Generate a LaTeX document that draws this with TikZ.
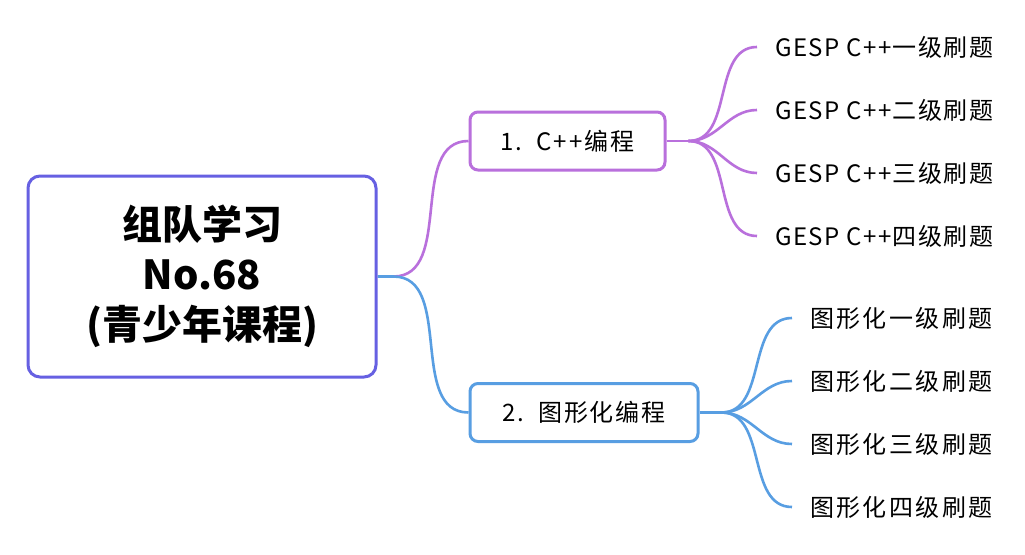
\documentclass[tikz,border=0pt]{standalone}
\usepackage{fontspec}
\setmainfont{Noto Sans CJK SC}
\usetikzlibrary{positioning,calc}

\definecolor{rootblue}{RGB}{102,96,226}
\definecolor{mindpurple}{RGB}{185,112,220}
\definecolor{mindblue}{RGB}{88,158,226}

\tikzset{
  rootbox/.style={draw=rootblue, line width=3pt, rounded corners=12pt,
    minimum width=348pt, minimum height=201pt, align=center,
    font=\fontsize{40}{50}\selectfont\bfseries},
  topicbox/.style={draw=#1, line width=3pt, rounded corners=8pt, fill=white,
    minimum height=58pt, font=\fontsize{24}{28}\selectfont\addfontfeature{LetterSpace=8}},
  leafnode/.style={anchor=west, inner xsep=18pt,
    font=\fontsize{24}{28}\selectfont\addfontfeature{LetterSpace=#1}},
  branchline/.style={draw=#1, line width=2.6pt},
}

\begin{document}
\begin{tikzpicture}[x=1pt,y=-1pt]
    \fill[white] (0,0) rectangle (1025,554);
    \useasboundingbox (0,0) rectangle (1025,554);

    % Root
    \node[rootbox] (root) at (202,276.5) {组队学习\\No.68\\(青少年课程)};

    % Topics
    \node[topicbox=mindpurple, minimum width=195pt] (topicA) at (567.5,141) {1.\hspace{14pt}C++编程};
    \node[topicbox=mindblue, minimum width=228pt] (topicB) at (584,412.5) {2.\hspace{14pt}图形化编程};

    % Leaves
    \foreach \lvl [count=\i] in {一,二,三,四}
        \node[leafnode=6] (leafA\i) at (757,{47+63*(\i-1)}) {GESP C++\lvl 级刷题};
    \foreach \lvl [count=\i] in {一,二,三,四}
        \node[leafnode=10] (leafB\i) at (792,{318+63*(\i-1)}) {图形化\lvl 级刷题};

    % Root to topics
    \coordinate (rootstub) at ([xshift=16pt]root.east);
    \draw[branchline=mindpurple] (root.east) -- (rootstub) to[out=0,in=180] (topicA.west);
    \draw[branchline=mindblue] (root.east) -- (rootstub) to[out=0,in=180] (topicB.west);

    % Topics to leaves
    \coordinate (hubA) at ([xshift=22pt]topicA.east);
    \coordinate (hubB) at ([xshift=22pt]topicB.east);
    \draw[branchline=mindpurple] (topicA.east) -- (hubA);
    \draw[branchline=mindblue] (topicB.east) -- (hubB);
    \foreach \i in {1,...,4} {
        \draw[branchline=mindpurple] (hubA) to[out=0,in=180] (leafA\i.west);
        \draw[branchline=mindblue] (hubB) to[out=0,in=180] (leafB\i.west);
    }
\end{tikzpicture}
\end{document}
